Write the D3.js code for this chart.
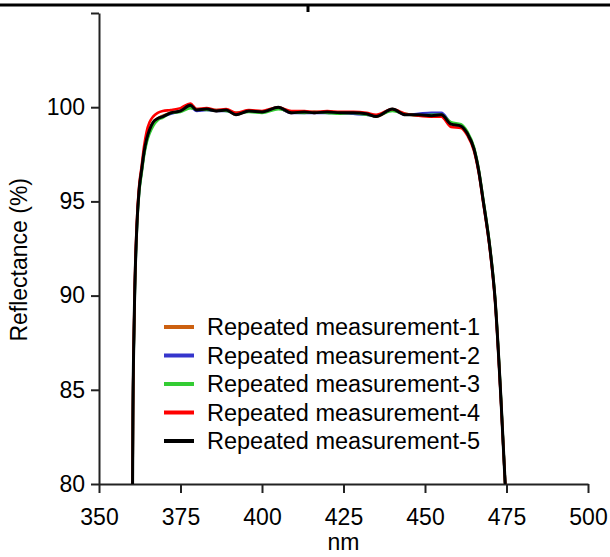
<!DOCTYPE html>
<html>
<head>
<meta charset="utf-8">
<script src="https://cdn.jsdelivr.net/npm/d3@7"></script>
<style>
  body { margin: 0; background: #fff; }
  svg { display: block; font-family: "Liberation Sans", Arial, sans-serif; }
</style>
</head>
<body>
<script>
// wavelength samples (nm), shared by all runs
var nm = [360.3, 360.4, 360.8, 361.7, 362.3, 363.1, 363.8, 364.6, 365.5, 366.6, 368, 369.6, 372, 375, 378, 380, 383, 386, 389, 392, 396, 400, 405, 409, 413, 416, 420, 424, 428, 432, 435, 440, 444, 448, 452, 455, 458, 461, 463, 465, 466.5, 467.8, 470, 471.5, 473.3, 474.6];

var run1 = [80.0, 83.4, 88.7, 94.0, 95.6, 96.7, 97.6, 98.3, 98.8, 99.2, 99.4, 99.55, 99.7, 99.8, 100.05, 99.85, 99.9, 99.8, 99.85, 99.6, 99.8, 99.75, 99.95, 99.7, 99.75, 99.7, 99.75, 99.7, 99.7, 99.65, 99.5, 99.85, 99.6, 99.6, 99.6, 99.6, 99.1, 99.0, 98.6, 97.8, 96.6, 95.1, 92.4, 89.8, 84.5, 80.0];
var run2 = [80.0, 83.4, 88.6, 93.9, 95.5, 96.6, 97.5, 98.2, 98.7, 99.1, 99.35, 99.5, 99.65, 99.8, 100.0, 99.8, 99.85, 99.8, 99.8, 99.65, 99.8, 99.75, 99.95, 99.7, 99.7, 99.7, 99.7, 99.7, 99.65, 99.6, 99.55, 99.85, 99.6, 99.65, 99.7, 99.7, 99.15, 99.0, 98.6, 97.8, 96.6, 95.1, 92.4, 89.8, 84.5, 80.0];
var run3 = [80.0, 83.3, 88.5, 93.8, 95.4, 96.5, 97.4, 98.1, 98.6, 99.0, 99.3, 99.45, 99.7, 99.75, 99.95, 99.9, 99.85, 99.85, 99.8, 99.7, 99.75, 99.7, 99.9, 99.75, 99.7, 99.75, 99.7, 99.65, 99.7, 99.6, 99.55, 99.8, 99.65, 99.55, 99.6, 99.6, 99.2, 99.1, 98.7, 97.9, 96.7, 95.2, 92.5, 89.9, 84.6, 80.0];
var run4 = [80.0, 83.5, 88.9, 94.2, 95.8, 96.9, 97.9, 98.7, 99.2, 99.5, 99.7, 99.8, 99.85, 99.95, 100.2, 99.9, 99.95, 99.85, 99.9, 99.7, 99.85, 99.8, 100.0, 99.8, 99.8, 99.75, 99.8, 99.75, 99.75, 99.7, 99.6, 99.9, 99.65, 99.55, 99.5, 99.5, 98.95, 98.9, 98.5, 97.7, 96.5, 95.0, 92.3, 89.7, 84.4, 80.0];
var run5 = [80.0, 83.4, 88.7, 94.0, 95.6, 96.7, 97.6, 98.3, 98.8, 99.2, 99.4, 99.5, 99.7, 99.8, 100.1, 99.85, 99.9, 99.8, 99.85, 99.6, 99.8, 99.75, 100.0, 99.7, 99.75, 99.7, 99.75, 99.7, 99.7, 99.65, 99.5, 99.9, 99.6, 99.6, 99.55, 99.6, 99.1, 99.0, 98.6, 97.8, 96.6, 95.1, 92.4, 89.8, 84.5, 80.0];

var names = ["Repeated measurement-1", "Repeated measurement-2", "Repeated measurement-3", "Repeated measurement-4", "Repeated measurement-5"];
var colors = ["#cc6010", "#3535cc", "#33cc33", "#ff0000", "#000000"];
var xTicks = [350, 375, 400, 425, 450, 475, 500];
var yTicks = [80, 85, 90, 95, 100, 105];

var width = 610, height = 557;
var runs = [run1, run2, run3, run4, run5];

var svg = d3.select("body").append("svg")
  .attr("width", width)
  .attr("height", height);

// the thin frame line across the top of the crop
svg.append("line")
  .attr("x1", 0).attr("x2", width)
  .attr("y1", 5).attr("y2", 5)
  .attr("stroke", "#000").attr("stroke-width", 3);
svg.append("line")
  .attr("x1", 308).attr("x2", 308)
  .attr("y1", 5).attr("y2", 12)
  .attr("stroke", "#000").attr("stroke-width", 3);

var x = d3.scaleLinear().domain([350, 500]).range([99, 588]);
var y = d3.scaleLinear().domain([80, 105]).range([484, 13]);

var line = d3.line()
  .curve(d3.curveMonotoneX)
  .x(d => x(d[0]))
  .y(d => y(d[1]));

svg.append("clipPath").attr("id", "plot")
  .append("rect")
  .attr("x", 99).attr("y", 13)
  .attr("width", 489).attr("height", 471);

var xAxis = g => g
  .attr("transform", `translate(0,${y(80)})`)
  .call(d3.axisBottom(x).tickValues(xTicks).tickSize(9).tickPadding(16).tickSizeOuter(0))
  .call(g => g.select(".domain").attr("stroke", "#222").attr("stroke-width", 2))
  .call(g => g.selectAll(".tick line").attr("stroke", "#222").attr("stroke-width", 2))
  .call(g => g.selectAll("text").attr("font-size", 23).attr("fill", "#000").attr("font-family", "Liberation Sans, Arial"));

var yAxis = g => g
  .attr("transform", `translate(${x(350)},0)`)
  .call(d3.axisLeft(y).tickValues(yTicks).tickSize(8).tickPadding(6).tickSizeOuter(0)
    .tickFormat(d => d === 105 ? "" : d))
  .call(g => g.select(".domain").attr("stroke", "#222").attr("stroke-width", 2))
  .call(g => g.selectAll(".tick line").attr("stroke", "#222").attr("stroke-width", 2))
  .call(g => g.selectAll("text").attr("font-size", 23).attr("fill", "#000").attr("font-family", "Liberation Sans, Arial"));

svg.append("g").call(xAxis);
svg.append("g").call(yAxis);

svg.append("g")
  .attr("clip-path", "url(#plot)")
  .selectAll("path")
  .data(runs)
  .join("path")
    .attr("fill", "none")
    .attr("stroke", (d, i) => colors[i])
    .attr("stroke-width", (d, i) => i === 4 ? 3 : 2.6)
    .attr("stroke-linejoin", "round")
    .attr("d", vals => line(vals.map((v, j) => [nm[j], v])));

// legend
var legend = svg.append("g");
names.forEach((name, i) => {
  var ly = 327 + i * 28.5;
  legend.append("line")
    .attr("x1", 164).attr("x2", 194)
    .attr("y1", ly).attr("y2", ly)
    .attr("stroke", colors[i]).attr("stroke-width", 4);
  legend.append("text")
    .attr("x", 207).attr("y", ly)
    .attr("dy", "0.36em")
    .attr("font-size", 23.5)
    .text(name);
});

svg.append("text")
  .attr("x", x(425)).attr("y", 550)
  .attr("text-anchor", "middle")
  .attr("font-size", 23)
  .text("nm");

svg.append("text")
  .attr("transform", `translate(27,${y(91.9)}) rotate(-90)`)
  .attr("text-anchor", "middle")
  .attr("font-size", 23)
  .text("Reflectance (%)");
</script>
</body>
</html>
